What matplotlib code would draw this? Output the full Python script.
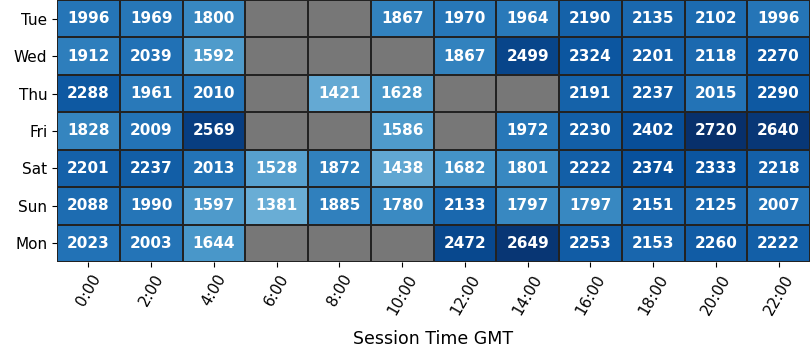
import numpy as np
import matplotlib
matplotlib.use("Agg")
import matplotlib.pyplot as plt

days = ["Tue", "Wed", "Thu", "Fri", "Sat", "Sun", "Mon"]
hours = ["0:00", "2:00", "4:00", "6:00", "8:00", "10:00",
         "12:00", "14:00", "16:00", "18:00", "20:00", "22:00"]
nan = np.nan
tue = [1996, 1969, 1800, nan, nan, 1867, 1970, 1964, 2190, 2135, 2102, 1996]
wed = [1912, 2039, 1592, nan, nan, nan, 1867, 2499, 2324, 2201, 2118, 2270]
thu = [2288, 1961, 2010, nan, 1421, 1628, nan, nan, 2191, 2237, 2015, 2290]
fri = [1828, 2009, 2569, nan, nan, 1586, nan, 1972, 2230, 2402, 2720, 2640]
sat = [2201, 2237, 2013, 1528, 1872, 1438, 1682, 1801, 2222, 2374, 2333, 2218]
sun = [2088, 1990, 1597, 1381, 1885, 1780, 2133, 1797, 1797, 2151, 2125, 2007]
mon = [2023, 2003, 1644, nan, nan, nan, 2472, 2649, 2253, 2153, 2260, 2222]

data = np.array([tue, wed, thu, fri, sat, sun, mon], dtype=float)

fig = plt.figure(figsize=(8.1, 3.6), dpi=100)
ax = fig.add_axes([57 / 810, 1 - 262 / 360, 753 / 810, 262 / 360])
ax.set_facecolor("#777777")

masked = np.ma.masked_invalid(data)
ax.pcolormesh(masked, cmap="Blues", vmin=0, vmax=np.nanmax(data),
              edgecolors="#222222", linewidth=1.2)

# grey cells also get the dark grid
for i in range(data.shape[0] + 1):
    ax.axhline(i, color="#222222", lw=1.2)
for j in range(data.shape[1] + 1):
    ax.axvline(j, color="#222222", lw=1.2)

for i in range(data.shape[0]):
    for j in range(data.shape[1]):
        if not np.isnan(data[i, j]):
            ax.text(j + 0.5, i + 0.5, "%d" % data[i, j], ha="center", va="center",
                    color="white", fontsize=11, fontweight="bold")

ax.set_xlim(0, data.shape[1])
ax.set_ylim(data.shape[0], 0)
ax.set_xticks(np.arange(data.shape[1]) + 0.5)
ax.set_xticklabels(hours, rotation=60, fontsize=11)
ax.set_yticks(np.arange(data.shape[0]) + 0.5)
ax.set_yticklabels(days, fontsize=11)
ax.set_xlabel("Session Time GMT", fontsize=12.5, labelpad=9)
for s in ax.spines.values():
    s.set_visible(False)

fig.savefig("out.png", dpi=100)
